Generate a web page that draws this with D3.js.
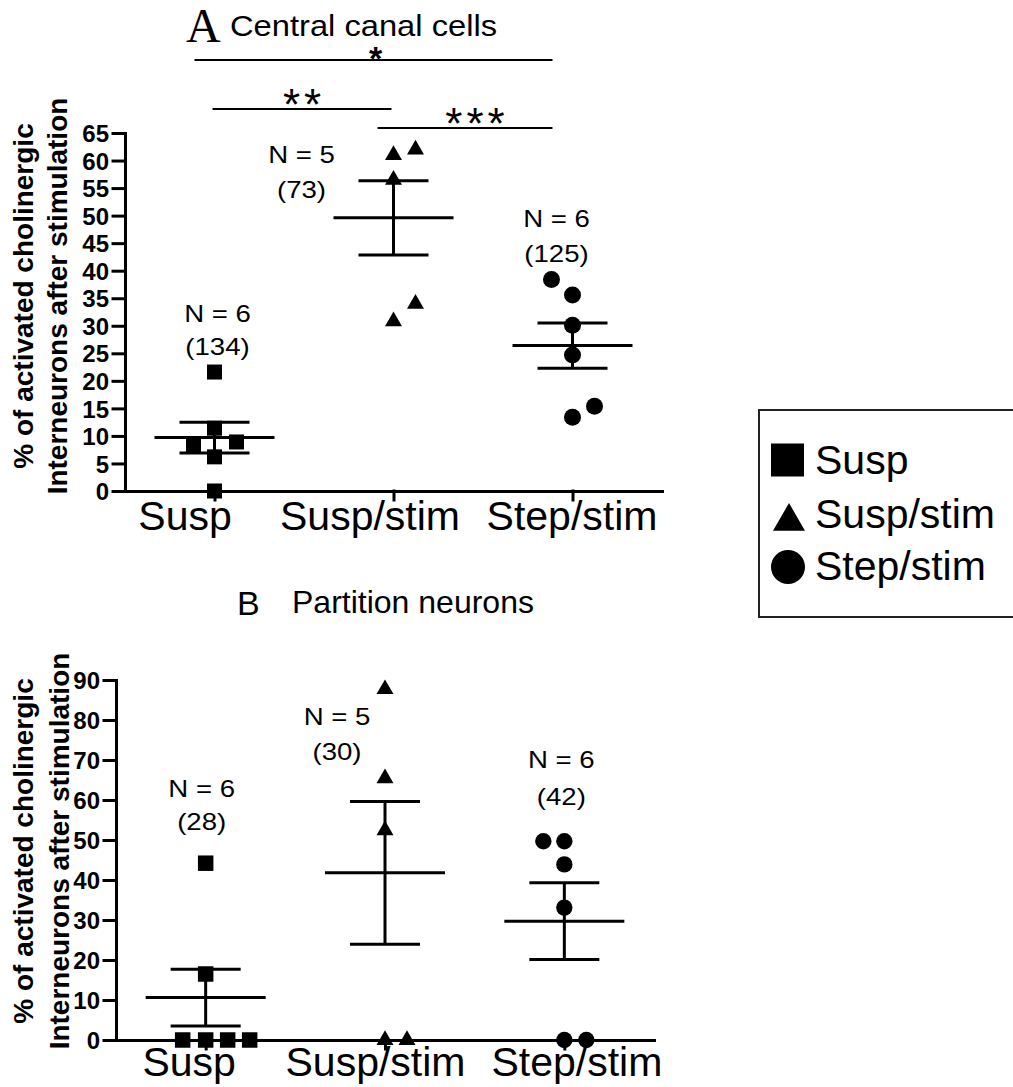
<!DOCTYPE html>
<html>
<head>
<meta charset="utf-8">
<script src="https://cdn.jsdelivr.net/npm/d3@7"></script>
<style>
  body { margin: 0; background: #fff; }
  text { font-family: Arial, "Liberation Sans", sans-serif; fill: #000; }
</style>
</head>
<body>
<svg id="chart" width="1013" height="1087"></svg>
<script>
// groups and tick labels
var groups = ["Susp", "Susp/stim", "Step/stim"];
var ticksA = [0, 5, 10, 15, 20, 25, 30, 35, 40, 45, 50, 55, 60, 65];
var ticksB = [0, 10, 20, 30, 40, 50, 60, 70, 80, 90];
var yLabel = ["% of activated cholinergic", "Interneurons after stimulation"];

// A - central canal cells
var suspA = [21.6, 11.4, 8.9, 8.4, 6.2, 0];
var suspStimA = [61.0, 62.0, 56.5, 30.8, 34.0];
var stepStimA = [38.4, 35.6, 30.1, 24.7, 13.4, 15.4];
var meanA = [9.7, 49.6, 26.4];
var semA = [2.8, 6.75, 4.1];
var nA = ["N = 6", "N = 5", "N = 6"];
var cellsA = ["(134)", "(73)", "(125)"];
var sigPairs = [[0, 2], [0, 1], [1, 2]];
var sigLabels = ["*", "**", "***"];

// B - partition neurons
var suspB = [44.2, 16.5, 0, 0, 0, 0];
var suspStimB = [87.7, 65.4, 52.4, 0, 0];
var stepStimB = [49.7, 49.7, 43.9, 33.1, 0, 0];
var meanB = [10.6, 41.8, 29.7];
var semB = [7.1, 17.85, 9.6];
var nB = ["N = 6", "N = 5", "N = 6"];
var cellsB = ["(28)", "(30)", "(42)"];

var symbols = [d3.symbolSquare, d3.symbolTriangle, d3.symbolCircle];
var svg = d3.select("#chart");

function stretched(sel, str, x, y, size, sx) {
  return sel.append("text")
    .attr("transform", "translate(" + x + "," + y + ") scale(" + sx + ",1)")
    .attr("text-anchor", "middle")
    .style("font-size", size + "px")
    .text(str);
}

function drawPanel(p) {
  var x = d3.scalePoint().domain(groups).range([p.left, p.right]).padding(0.5);
  var y = d3.scaleLinear().domain([0, p.max]).range([p.bottom, p.top]);
  var g = svg.append("g");

  // y axis
  var ya = g.append("g")
    .attr("transform", "translate(" + p.left + ",0)")
    .call(d3.axisLeft(y).tickValues(p.ticks).tickSize(12).tickSizeOuter(0).tickPadding(4));
  ya.selectAll("path, line").attr("stroke", "#000").attr("stroke-width", 3).attr("stroke-linecap", "square");
  ya.selectAll("text").style("font-size", "24px").style("font-weight", "bold").attr("dy", "0.36em");

  // x axis
  var xa = g.append("g")
    .attr("transform", "translate(0," + p.bottom + ")")
    .call(d3.axisBottom(x).tickSize(9).tickSizeOuter(0));
  xa.selectAll("path, line").attr("stroke", "#000").attr("stroke-width", 3).attr("stroke-linecap", "square");
  xa.selectAll("text")
    .style("font-size", "41px")
    .attr("y", p.labelY).attr("dy", 0)
    .attr("dx", function(d, i) { return p.labelDx[i]; });

  // y label, two lines
  yLabel.forEach(function(s, i) {
    g.append("text")
      .attr("transform", "translate(" + p.yLabelX[i] + "," + p.yLabelC + ") rotate(-90)")
      .attr("text-anchor", "middle")
      .style("font-size", "28px").style("font-weight", "bold")
      .text(s);
  });

  // mean and sem
  var bars = g.append("g").attr("stroke", "#000").attr("stroke-width", 3);
  bars.selectAll(".mean").data(p.mean).enter().append("line")
    .attr("x1", function(d, i) { return x(groups[i]) - 60; })
    .attr("x2", function(d, i) { return x(groups[i]) + 60; })
    .attr("y1", function(d) { return y(d); })
    .attr("y2", function(d) { return y(d); });
  bars.selectAll(".whisk").data(p.mean).enter().append("line")
    .attr("x1", function(d, i) { return x(groups[i]); })
    .attr("x2", function(d, i) { return x(groups[i]); })
    .attr("y1", function(d, i) { return y(d + p.sem[i]); })
    .attr("y2", function(d, i) { return y(d - p.sem[i]); });
  [1, -1].forEach(function(sign) {
    bars.selectAll(".cap" + sign).data(p.mean).enter().append("line")
      .attr("x1", function(d, i) { return x(groups[i]) - 35; })
      .attr("x2", function(d, i) { return x(groups[i]) + 35; })
      .attr("y1", function(d, i) { return y(d + sign * p.sem[i]); })
      .attr("y2", function(d, i) { return y(d + sign * p.sem[i]); });
  });

  // points
  p.values.forEach(function(vals, gi) {
    g.append("g").selectAll("path").data(vals).enter().append("path")
      .attr("transform", function(d, i) {
        return "translate(" + (x(groups[gi]) + p.jitter[gi][i]) + "," + y(d) + ")";
      })
      .attr("d", d3.symbol().type(symbols[gi]).size(p.sizes[gi]))
      .attr("fill", "#000");
  });

  // N and cell counts
  groups.forEach(function(k, i) {
    stretched(g, p.n[i], x(k) + p.nDx[i], p.nY[i], 23, 1.2);
    stretched(g, p.cells[i], x(k) + p.nDx[i], p.nY[i] + p.cellGap[i], 23, 1.2);
  });

  return {g: g, x: x, y: y};
}

// panel A
var A = drawPanel({
  left: 125, right: 662, top: 133, bottom: 491, max: 65, ticks: ticksA,
  labelY: 39, labelDx: [-30, -24, -1],
  yLabelX: [33, 67], yLabelC: 296,
  values: [suspA, suspStimA, stepStimA],
  jitter: [[0, 0, 22, -21, 0, 0], [0, 22, 0, 0, 22], [-21, 0, 0, 0, 0, 22]],
  sizes: [225, 125, 227],
  mean: meanA, sem: semA,
  n: nA, cells: cellsA,
  nDx: [3, -92, -16], nY: [322, 163, 227], cellGap: [33, 35, 35]
});

svg.append("text").attr("x", 186).attr("y", 42)
  .style("font-family", "'Times New Roman', 'Liberation Serif', serif").style("font-size", "48px")
  .text("A");
svg.append("text")
  .attr("transform", "translate(230,36) scale(1.09,1)")
  .style("font-size", "30px")
  .text("Central canal cells");

// significance brackets
var sigY = [60, 109, 128];
var sigDx0 = [-20, -2, -16];
var sigDx1 = [-20, -2, -20];
var sigTextDx = [4, 2, 12];
var sigTextDy = [10, 11, 11];
var sigSize = [34, 44, 44];
var sig = svg.append("g");
sigPairs.forEach(function(pr, i) {
  var x0 = A.x(groups[pr[0]]) + sigDx0[i];
  var x1 = A.x(groups[pr[1]]) + sigDx1[i];
  sig.append("line")
    .attr("x1", x0).attr("x2", x1).attr("y1", sigY[i]).attr("y2", sigY[i])
    .attr("stroke", "#000").attr("stroke-width", 2);
  sig.append("text")
    .attr("x", (x0 + x1) / 2 + sigTextDx[i]).attr("y", sigY[i] + sigTextDy[i])
    .attr("text-anchor", "middle")
    .style("font-size", sigSize[i] + "px").style("letter-spacing", "4px")
    .style("font-weight", i === 0 ? "bold" : "normal")
    .text(sigLabels[i]);
});

// panel B
drawPanel({
  left: 116, right: 654, top: 680, bottom: 1040, max: 90, ticks: ticksB,
  labelY: 36, labelDx: [-17, -10, 12],
  yLabelX: [33, 69], yLabelC: 851,
  values: [suspB, suspStimB, stepStimB],
  jitter: [[0, 0, -23, 0, 22, 44], [0, 0, 0, 0, 22], [-21, 0, 0, 0, 0, 22]],
  sizes: [240, 125, 210],
  mean: meanB, sem: semB,
  n: nB, cells: cellsB,
  nDx: [-4, -48, -3], nY: [797, 725, 768], cellGap: [33, 35, 37]
});

svg.append("text").attr("x", 237).attr("y", 615).style("font-size", "34px").text("B");
svg.append("text").attr("x", 292).attr("y", 613).style("font-size", "32px").text("Partition neurons");

// legend
var leg = svg.append("g");
leg.append("rect").attr("x", 759).attr("y", 410).attr("width", 262).attr("height", 207)
  .attr("fill", "none").attr("stroke", "#222").attr("stroke-width", 2);
var legPos = [[787.5, 460], [789, 521.5], [788, 567]];
var legSizes = [1089, 443, 908];
var legBase = [474, 528, 580];
groups.forEach(function(k, i) {
  leg.append("path")
    .attr("transform", "translate(" + legPos[i][0] + "," + legPos[i][1] + ")")
    .attr("d", d3.symbol().type(symbols[i]).size(legSizes[i]))
    .attr("fill", "#000");
  leg.append("text").attr("x", 815).attr("y", legBase[i]).style("font-size", "41px").text(k);
});
</script>
</body>
</html>
